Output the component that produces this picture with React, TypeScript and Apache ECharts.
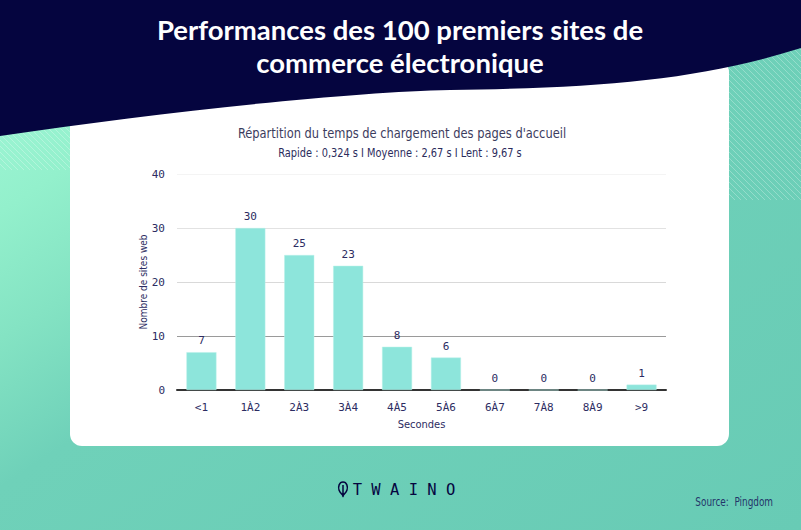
import React, { useEffect, useRef } from "react";
import * as echarts from "echarts";

const categories = ["<1", "1À2", "2À3", "3À4", "4À5", "5À6", "6À7", "7À8", "8À9", ">9"];
const siteCounts = [7, 30, 25, 23, 8, 6, 0, 0, 0, 1];
const yTicks = [0, 10, 20, 30, 40];
const titleLines = ["Performances des 100 premiers sites de", "commerce électronique"];
const subtitleLines = [
  "Répartition du temps de chargement des pages d'accueil",
  "Rapide : 0,324 s I Moyenne : 2,67 s I Lent : 9,67 s",
];
const yAxisName = "Nombre de sites web";
const xAxisName = "Secondes";
const brandName = "T W A I N O";
const sourceText = "Source:  Pingdom";

const NAVY = "#05053f";
const TEXT = "#2c2c62";
const NARROW = "'DejaVu Sans Condensed', 'Roboto', sans-serif";
const MONO = "'DejaVu Sans Mono', monospace";

let registered = false;
function registerShapes() {
  if (registered) return;
  registered = true;
  echarts.graphic.registerShape(
    "headerWave",
    echarts.graphic.extendPath(
      "M0 0 L801 0 L801 48 C700 80 600 88 450 90 C350 92 160 112 0 136 Z",
      {}
    )
  );
  echarts.graphic.registerShape(
    "leaf",
    echarts.graphic.extendPath(
      "M4 0 C8 0 9 5 8 8 C7 11 5 12 4 14 C3 12 1 11 0 8 C-1 5 0 0 4 0 Z M4 3 L4 15",
      {}
    )
  );
}

function hatchLines(x0: number, y0: number, x1: number, y1: number, step: number) {
  const out: any[] = [];
  const w = x1 - x0;
  const h = y1 - y0;
  for (let c = -h; c < w; c += step) {
    let sx = x0 + c, sy = y0;
    if (sx < x0) { sy = y0 + (x0 - sx); sx = x0; }
    let ex = x0 + c + h, ey = y1;
    if (ex > x1) { ey = y1 - (ex - x1); ex = x1; }
    out.push({
      type: "line",
      shape: { x1: sx, y1: sy, x2: ex, y2: ey },
      style: { stroke: "rgba(255,255,255,0.35)", lineWidth: 0.8 },
      silent: true,
    });
  }
  return out;
}

export default function App() {
  const ref = useRef<HTMLDivElement>(null);
  useEffect(() => {
    if (!ref.current) return;
    registerShapes();
    const chart = echarts.init(ref.current, null, { renderer: "svg" });
    const option: any = {
      animation: false,
      backgroundColor: {
        type: "linear",
        x: 0, y: 0, x2: 1, y2: 1,
        colorStops: [
          { offset: 0, color: "#a6fadb" },
          { offset: 0.2, color: "#93f0cc" },
          { offset: 0.32, color: "#84e3c3" },
          { offset: 0.46, color: "#6fd1b9" },
          { offset: 1, color: "#68cbb5" },
        ],
      },
      grid: { left: 177, right: 135, top: 174, bottom: 140, containLabel: false },
      xAxis: {
        type: "category",
        data: categories,
        name: xAxisName,
        nameLocation: "middle",
        nameGap: 29,
        nameMoveOverlap: false,
        nameTextStyle: { fontFamily: NARROW, fontSize: 11, color: TEXT },
        axisLine: { lineStyle: { color: "#333333", width: 2 } },
        axisTick: { show: false },
        axisLabel: { fontFamily: MONO, fontSize: 11, color: TEXT, margin: 12 },
      },
      yAxis: {
        type: "value",
        min: 0,
        max: 40,
        interval: 10,
        name: yAxisName,
        nameLocation: "middle",
        nameGap: 29,
        nameMoveOverlap: false,
        nameTextStyle: { fontFamily: NARROW, fontSize: 10, color: TEXT },
        axisLine: { show: false },
        axisTick: { show: false },
        axisLabel: {
          fontFamily: MONO,
          fontSize: 11,
          color: TEXT,
          margin: 12,
          formatter: (v: number) => (yTicks.includes(v) ? String(v) : ""),
        },
        splitLine: {
          lineStyle: { color: ["#333333", "#9a9a9a", "#d9d9d9", "#e2e2e2", "#f4f4f4"], width: 1 },
        },
      },
      series: [
        {
          type: "bar",
          data: siteCounts,
          barWidth: 30,
          itemStyle: { color: "#8de5db", borderColor: "#b8f0e9", borderWidth: 0.5 },
          label: {
            show: true,
            position: "top",
            distance: 6,
            fontFamily: MONO,
            fontSize: 11,
            color: TEXT,
          },
        },
      ],
      graphic: [
        ...hatchLines(729, 40, 801, 200, 6),
        ...hatchLines(0, 100, 70, 170, 6),
        {
          type: "rect",
          shape: { x: 70, y: 60, width: 659, height: 386, r: 12 },
          style: { fill: "#ffffff" },
          z: -1,
          silent: true,
        },
        {
          type: "headerWave",
          x: 0,
          y: 0,
          scaleX: 1,
          scaleY: 1,
          style: { fill: NAVY },
          silent: true,
        },
        {
          type: "text",
          x: 400,
          y: 29,
          style: {
            text: titleLines[0],
            fill: "#ffffff",
            fontFamily: "Lato, 'Open Sans', sans-serif",
            fontWeight: "bold",
            fontSize: 27.5,
            align: "center",
            verticalAlign: "middle",
          },
        },
        {
          type: "text",
          x: 400,
          y: 62,
          style: {
            text: titleLines[1],
            fill: "#ffffff",
            fontFamily: "Lato, 'Open Sans', sans-serif",
            fontWeight: "bold",
            fontSize: 27.5,
            align: "center",
            verticalAlign: "middle",
          },
        },
        {
          type: "text",
          x: 402,
          y: 133,
          scaleX: 0.91,
          style: {
            text: subtitleLines[0],
            fill: "#3c3c5e",
            fontFamily: NARROW,
            fontSize: 14,
            align: "center",
            verticalAlign: "middle",
          },
        },
        {
          type: "text",
          x: 400,
          y: 153,
          scaleX: 0.84,
          style: {
            text: subtitleLines[1],
            fill: "#2c2c5c",
            fontFamily: NARROW,
            fontSize: 13,
            align: "center",
            verticalAlign: "middle",
          },
        },
        {
          type: "leaf",
          x: 339,
          y: 482,
          scaleX: 1,
          scaleY: 1,
          style: { fill: "none", stroke: NAVY, lineWidth: 1.5 },
          silent: true,
        },
        {
          type: "text",
          x: 404,
          y: 490,
          style: {
            text: brandName,
            fill: NAVY,
            fontFamily: MONO,
            fontSize: 15.5,
            align: "center",
            verticalAlign: "middle",
          },
        },
        {
          type: "text",
          x: 773,
          y: 502,
          scaleX: 0.79,
          style: {
            text: sourceText,
            fill: "#24356a",
            fontFamily: NARROW,
            fontSize: 12.5,
            align: "right",
            verticalAlign: "middle",
          },
        },
      ],
    };
    chart.setOption(option);
    return () => chart.dispose();
  }, []);
  return (
    <div
      ref={ref}
      style={{ position: "fixed", left: 0, top: 0, width: 801, height: 530 }}
    />
  );
}
